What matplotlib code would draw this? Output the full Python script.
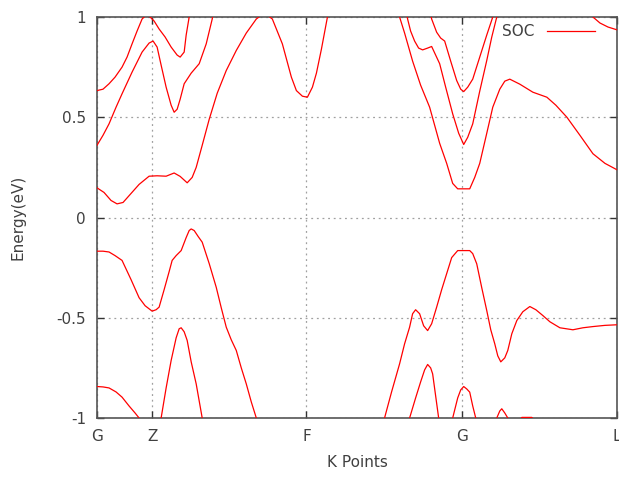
import matplotlib
matplotlib.use("Agg")
import matplotlib.pyplot as plt
import numpy as np

# k-path tick positions and labels
kticks = [0.0, 0.55, 2.09, 3.64, 5.19]
klabels = ["G", "Z", "F", "G", "L"]

# Bands: (k, E) pairs (values beyond +-1 are clipped)
c1_k = [0, 0.06, 0.12, 0.18, 0.25, 0.30, 0.35, 0.40, 0.45, 0.49, 0.53, 0.57, 0.62, 0.68, 0.74, 0.80, 0.83, 0.87, 0.89, 0.92, 0.97,
        3.27, 3.34, 3.39, 3.43, 3.47, 3.53, 3.59, 3.63, 3.66, 3.70, 3.75, 3.82, 3.89, 3.95, 4.02, 5.19]
c1_e = [0.633, 0.64, 0.667, 0.70, 0.75, 0.80, 0.866, 0.93, 0.99, 1.01, 1.0, 0.98, 0.94, 0.90, 0.85, 0.81, 0.80, 0.825, 0.91, 1.0, 1.2,
        1.2, 0.99, 0.924, 0.895, 0.88, 0.78, 0.683, 0.64, 0.628, 0.65, 0.69, 0.80, 0.91, 1.0, 1.2, 1.2]

c2_k = [0, 0.06, 0.12, 0.19, 0.25, 0.35, 0.45, 0.52, 0.56, 0.60, 0.64, 0.69, 0.74, 0.77, 0.80, 0.83, 0.87, 0.94, 1.02, 1.09, 1.15, 1.22,
        3.02, 3.10, 3.13, 3.17, 3.21, 3.25, 3.30, 3.34, 3.38, 3.42, 3.48, 3.55, 3.61, 3.66, 3.70, 3.75, 3.82, 3.89, 3.94, 3.99, 4.07,
        4.87, 4.95, 5.02, 5.10, 5.19]
c2_e = [0.36, 0.41, 0.467, 0.55, 0.617, 0.725, 0.825, 0.87, 0.88, 0.85, 0.76, 0.65, 0.56, 0.525, 0.54, 0.59, 0.667, 0.72, 0.767, 0.866, 0.99, 1.2,
        1.2, 0.99, 0.93, 0.88, 0.845, 0.836, 0.845, 0.853, 0.81, 0.767, 0.65, 0.517, 0.42, 0.364, 0.40, 0.467, 0.63, 0.783, 0.90, 1.0, 1.2,
        1.2, 1.0, 0.97, 0.95, 0.936]

c3_k = [0, 0.07, 0.14, 0.20, 0.26, 0.34, 0.42, 0.52, 0.60, 0.69, 0.77, 0.83, 0.90, 0.95, 0.99, 1.05, 1.12, 1.20, 1.29, 1.39, 1.49, 1.59,
        1.67, 1.75, 1.85, 1.94, 1.99, 2.05, 2.10, 2.15, 2.19, 2.24, 2.30, 2.37, 2.92, 3.02, 3.07, 3.15, 3.23, 3.32, 3.42, 3.49, 3.55,
        3.60, 3.72, 3.77, 3.82, 3.89, 3.95, 4.02, 4.07, 4.12, 4.22, 4.35, 4.49, 4.58, 4.69, 4.82, 4.95, 5.07, 5.19]
c3_e = [0.148, 0.125, 0.085, 0.068, 0.075, 0.12, 0.165, 0.206, 0.208, 0.206, 0.222, 0.205, 0.173, 0.20, 0.25, 0.36, 0.49, 0.62, 0.733, 0.833, 0.92, 0.99,
        1.02, 0.99, 0.866, 0.70, 0.633, 0.605, 0.60, 0.65, 0.72, 0.84, 1.0, 1.2, 1.2, 1.0, 0.92, 0.78, 0.66, 0.55, 0.37, 0.27, 0.17,
        0.143, 0.143, 0.20, 0.27, 0.42, 0.55, 0.64, 0.68, 0.69, 0.665, 0.625, 0.60, 0.56, 0.50, 0.41, 0.318, 0.27, 0.238]

v1_k = [0, 0.06, 0.12, 0.18, 0.25, 0.34, 0.42, 0.48, 0.55, 0.59, 0.62, 0.67, 0.72, 0.75, 0.79, 0.84, 0.89, 0.92, 0.94, 0.97, 1.01, 1.05,
        1.12, 1.19, 1.24, 1.29, 1.34, 1.39, 1.44, 1.49, 1.54, 1.59, 1.67, 2.80, 2.87, 2.94, 3.02, 3.07, 3.12, 3.15, 3.18, 3.22, 3.26,
        3.30, 3.34, 3.39, 3.44, 3.49, 3.54, 3.60, 3.72, 3.75, 3.79, 3.84, 3.89, 3.93, 3.97, 4.00, 4.03, 4.07, 4.10, 4.14, 4.19, 4.25,
        4.32, 4.38, 4.45, 4.52, 4.62, 4.75, 4.85, 4.95, 5.07, 5.19]
v1_e = [-0.168, -0.168, -0.172, -0.19, -0.214, -0.31, -0.40, -0.44, -0.467, -0.46, -0.447, -0.36, -0.27, -0.214, -0.19, -0.165, -0.10, -0.065, -0.057, -0.065, -0.095, -0.123,
        -0.23, -0.348, -0.45, -0.547, -0.61, -0.663, -0.75, -0.83, -0.92, -1.0, -1.2, -1.2, -1.0, -0.87, -0.73, -0.63, -0.547, -0.48, -0.46, -0.48, -0.54,
        -0.564, -0.53, -0.447, -0.36, -0.28, -0.20, -0.165, -0.165, -0.18, -0.231, -0.35, -0.464, -0.56, -0.63, -0.69, -0.72, -0.70, -0.663, -0.58, -0.514, -0.47,
        -0.444, -0.46, -0.489, -0.52, -0.55, -0.56, -0.55, -0.544, -0.538, -0.535]

v2_k = [0, 0.06, 0.12, 0.19, 0.25, 0.32, 0.38, 0.42, 0.50, 3.04, 3.12, 3.18, 3.23, 3.27, 3.30, 3.33, 3.35, 3.38, 3.41, 3.49, 5.19]
v2_e = [-0.843, -0.845, -0.85, -0.87, -0.896, -0.94, -0.975, -1.0, -1.2, -1.2, -1.0, -0.90, -0.82, -0.76, -0.733, -0.75, -0.78, -0.89, -1.0, -1.2, -1.2]

v3_k = [0.52, 0.64, 0.69, 0.74, 0.79, 0.82, 0.84, 0.87, 0.90, 0.94, 0.99, 1.05, 1.12, 3.47, 3.55, 3.60, 3.63, 3.66, 3.69, 3.72, 3.75, 3.78, 3.87]
v3_e = [-1.2, -1.0, -0.85, -0.713, -0.60, -0.555, -0.55, -0.57, -0.613, -0.72, -0.83, -1.0, -1.2, -1.2, -1.0, -0.90, -0.86, -0.843, -0.855, -0.871, -0.94, -1.0, -1.2]

v4_k = [3.82, 3.99, 4.02, 4.04, 4.07, 4.10, 4.17]
v4_e = [-1.2, -1.0, -0.965, -0.954, -0.975, -1.0, -1.2]

v5_k = [4.17, 4.24, 4.34, 4.42]
v5_e = [-1.05, -0.997, -0.997, -1.05]

bands = [(c1_k, c1_e), (c2_k, c2_e), (c3_k, c3_e), (v1_k, v1_e), (v2_k, v2_e), (v3_k, v3_e), (v4_k, v4_e), (v5_k, v5_e)]

plt.rcParams['font.family'] = ['DejaVu Sans']
txt = '#404040'
fig = plt.figure(figsize=(6.19, 4.79), dpi=100)
ax = fig.add_axes([97/619, 1 - 418/479, 520/619, 401/479])

for i, (k, e) in enumerate(bands):
    ax.plot(k, e, color='#ff0000', lw=0.9, zorder=3, label='SOC' if i == 0 else None)

ax.set_xlim(kticks[0], kticks[-1])
ax.set_ylim(-1, 1)
ax.set_xticks(kticks)
ax.set_xticklabels(klabels)
ax.set_yticks([-1, -0.5, 0, 0.5, 1])
ax.set_yticklabels(['-1', '-0.5', '0', '0.5', '1'])
ax.tick_params(direction='in', length=5, width=1, top=True, right=True, colors='#333333',
               labelcolor=txt, labelsize=11, pad=8)
ax.grid(True, color='#a0a0a0', linestyle=(0, (1.5, 3)), lw=0.9)
for s in ax.spines.values():
    s.set_color('#555555')
    s.set_linewidth(1.2)
ax.set_xlabel('K Points', color=txt, fontsize=11, labelpad=8)
ax.set_ylabel('Energy(eV)', color=txt, fontsize=11, labelpad=22)

leg = ax.legend(loc='upper right', bbox_to_anchor=(0.969, 0.997), frameon=False, fontsize=11,
                handlelength=3.1, markerfirst=False, borderaxespad=0.0, handletextpad=0.85)
for t in leg.get_texts():
    t.set_color(txt)

fig.savefig('out.png', dpi=100)
